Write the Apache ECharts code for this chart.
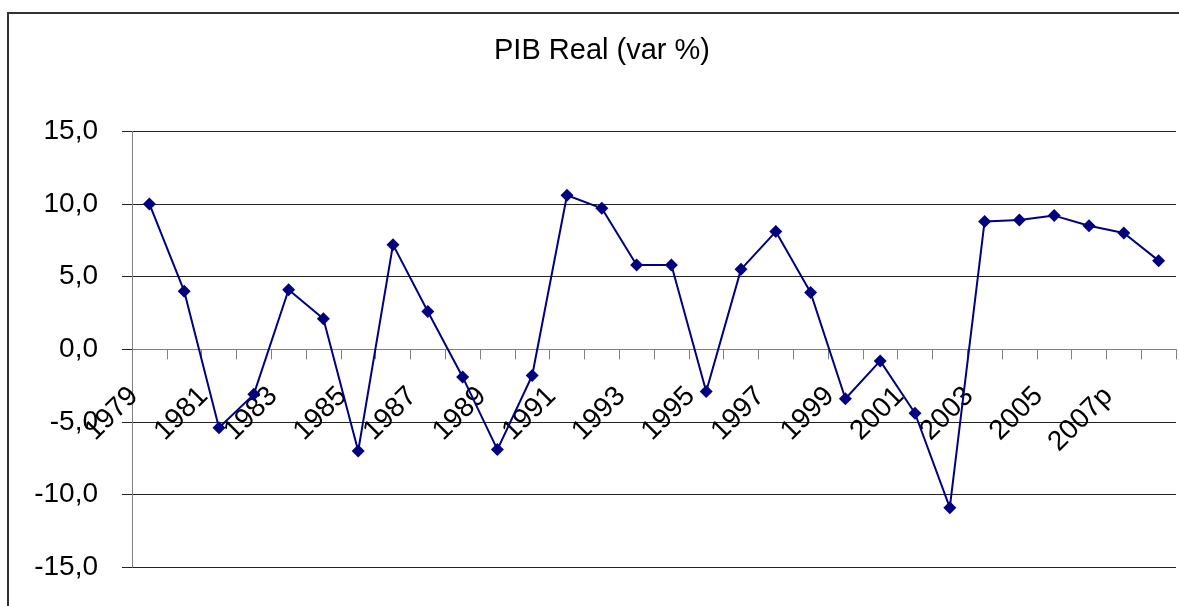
<!DOCTYPE html>
<html>
<head>
<meta charset="utf-8">
<script src="https://cdn.jsdelivr.net/npm/echarts@6/dist/echarts.min.js"></script>
<style>
html,body{margin:0;padding:0;background:#fff;}
#chart{width:1179px;height:606px;}
</style>
</head>
<body>
<div id="chart"></div>
<script>
const titleText = 'PIB Real (var %)';
const years = ['1979','1980','1981','1982','1983','1984','1985','1986','1987','1988',
  '1989','1990','1991','1992','1993','1994','1995','1996','1997','1998',
  '1999','2000','2001','2002','2003','2004','2005','2006','2007p','2008p'];
const pibVar = [10.0, 4.0, -5.4, -3.1, 4.1, 2.1, -7.0, 7.2, 2.6, -1.9,
  -6.9, -1.8, 10.6, 9.7, 5.8, 5.8, -2.9, 5.5, 8.1, 3.9,
  -3.4, -0.8, -4.4, -10.9, 8.8, 8.9, 9.2, 8.5, 8.0, 6.1];
const yMin = -15, yMax = 15, yStep = 5;

const gridTop = 131.3, gridBottom = 38.7, H = 606;
const plotH = H - gridTop - gridBottom;
const zeroOffset = -plotH * (0 - yMin) / (yMax - yMin);

const chart = echarts.init(document.getElementById('chart'));
const font = '"Liberation Sans", Arial, sans-serif';
chart.setOption({
  animation: false,
  backgroundColor: '#fff',
  title: {
    text: titleText,
    left: 602,
    top: 36,
    textAlign: 'center',
    padding: 0,
    textStyle: { fontFamily: font, fontSize: 29, fontWeight: 'normal', color: '#000' }
  },
  graphic: [
    { type: 'line', shape: { x1: 7, y1: 13, x2: 1179, y2: 13 }, style: { stroke: '#333', lineWidth: 2 } },
    { type: 'line', shape: { x1: 8, y1: 13, x2: 8, y2: 606 }, style: { stroke: '#333', lineWidth: 2 } }
  ],
  grid: { left: 132, right: 3, top: gridTop, bottom: gridBottom, outerBoundsMode: 'none', containLabel: false },
  xAxis: {
    type: 'category',
    data: years,
    boundaryGap: true,
    position: 'bottom',
    offset: zeroOffset,
    axisLine: { onZero: false, lineStyle: { color: '#808080', width: 1 } },
    axisTick: { show: true, interval: 0, length: 10, lineStyle: { color: '#808080' } },
    axisLabel: {
      interval: 1, rotate: 45, margin: 27, padding: [0, 22, 0, 0],
      fontFamily: font, fontSize: 28, color: '#000'
    },
    splitLine: { show: false }
  },
  yAxis: {
    type: 'value',
    min: yMin, max: yMax, interval: yStep,
    axisLine: { show: true, lineStyle: { color: '#808080', width: 1 } },
    axisTick: { show: true, length: 10, lineStyle: { color: '#222' } },
    axisLabel: {
      margin: 34, fontFamily: font, fontSize: 28, color: '#000',
      formatter: v => v.toFixed(1).replace('.', ',')
    },
    splitLine: { show: true, lineStyle: { color: '#222', width: 1 } }
  },
  series: [{
    type: 'line',
    data: pibVar,
    symbol: 'diamond',
    symbolSize: 13,
    lineStyle: { color: '#000080', width: 2 },
    itemStyle: { color: '#000080' }
  }]
});
</script>
</body>
</html>
